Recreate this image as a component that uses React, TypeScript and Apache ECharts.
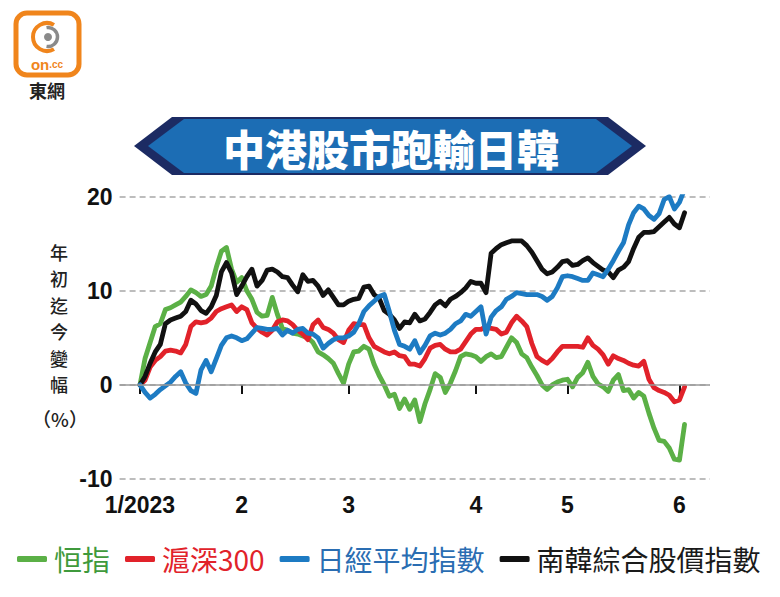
import React, { useEffect, useRef } from "react";
import * as echarts from "echarts";

const monthLabels = ["1/2023", "2", "3", "4", "5", "6"];
const monthStartIdx = [0, 20, 41, 66, 84, 106];

const seriesNames = ["恒指", "滬深300", "日經平均指數", "南韓綜合股價指數"];
const seriesColors = ["#5bb046", "#e1222a", "#1d7bc3", "#111111"];
const legendTextColors = ["#3f9a3c", "#e1222a", "#2a6db2", "#1a1a1a"];

const yNameChars = ["年", "初", "迄", "今", "變", "幅"];
const yNameUnit = "（%）";

const hsi = [
  0, 2.8, 4.5, 6.2, 6.5, 8.0, 8.2, 8.5, 8.8, 9.4,
  10.1, 9.8, 9.4, 9.6, 10.5, 12.5, 14.2, 14.6, 12.3, 10.9,
  11.4, 10.0, 9.1, 7.7, 7.3, 7.4, 9.3, 7.5, 6.0, 5.8,
  5.5, 5.4, 5.2, 5.0, 4.5, 3.5, 3.2, 2.8, 2.3, 1.2,
  0.2, 2.2, 3.5, 3.6, 4.1, 3.8, 2.2, 1.0, 0.0, -1.2,
  -1.0, -2.5, -1.5, -2.6, -1.6, -3.9, -2.0, -0.5, 1.2, 0.8,
  -0.8, 0.2, 1.5, 3.0, 3.3, 3.2, 3.0, 2.5, 3.0, 3.3,
  2.9, 3.0, 4.0, 5.0, 4.5, 3.3, 2.9, 1.9, 1.0, 0.0,
  -0.5, 0.0, 0.3, 0.5, 0.6, -0.2, 0.8, 1.3, 2.4, 0.9,
  0.1, -0.2, -0.7, 0.5, 1.1, -0.6, -0.5, -1.4, -0.8, -1.2,
  -3.0, -4.6, -5.9, -6.0, -6.7, -7.9, -8.0, -4.2,
];

const csi300 = [
  0, 0.5, 1.9, 2.6, 3.0, 3.6, 3.7, 3.6, 3.4, 4.3,
  6.2, 6.7, 6.6, 6.7, 7.1, 7.8, 8.1, 8.3, 8.5, 7.8,
  8.3, 8.0, 6.6, 6.0, 5.6, 5.3, 5.8, 6.7, 6.9, 6.8,
  6.4, 5.8, 5.4, 4.8, 6.4, 6.9, 6.1, 5.9, 5.5, 4.8,
  4.5, 5.8, 6.5, 6.4, 6.4, 5.0, 4.1, 3.8, 3.5, 3.3,
  3.5, 3.1, 3.0, 2.2, 2.2, 2.0, 2.8, 3.9, 4.2, 4.3,
  3.8, 3.5, 3.5, 3.8, 4.6, 5.4, 5.9, 5.9, 6.2, 6.0,
  5.9, 5.4, 5.6, 6.6, 7.3, 6.8, 6.2, 4.4, 3.0, 2.6,
  2.3, 2.8, 3.5, 4.1, 4.1, 4.1, 4.1, 4.0, 5.0, 4.2,
  3.8, 3.2, 2.2, 3.1, 2.8, 2.6, 2.3, 2.1, 2.0, 2.5,
  0.6, -0.3, -0.6, -0.8, -1.1, -1.8, -1.6, -0.2,
];

const nikkei = [
  0, -0.8, -1.4, -1.0, -0.5, -0.1, 0.3, 0.9, 1.4, 0.2,
  -0.6, -0.9, 1.6, 2.6, 1.4, 2.8, 4.2, 5.0, 5.2, 5.0,
  4.7, 4.9, 5.5, 6.1, 6.0, 5.9, 5.9, 6.0, 5.3, 5.8,
  5.5, 5.9, 6.0, 5.5, 5.4, 5.0, 3.9, 4.4, 4.8, 5.0,
  5.0, 5.2, 5.6, 6.5, 7.8, 8.4, 8.9, 9.4, 9.6, 7.8,
  5.8, 4.3, 4.1, 3.8, 4.7, 3.4, 4.2, 5.2, 5.5, 5.3,
  5.5, 5.9, 6.5, 6.8, 7.5, 7.3, 7.8, 8.3, 5.4, 7.2,
  7.9, 8.3, 9.1, 9.4, 9.8, 9.7, 9.6, 9.6, 9.6, 9.4,
  9.0, 9.4, 10.3, 11.5, 11.6, 11.5, 11.3, 11.1, 11.1, 11.9,
  11.7, 11.5, 12.3, 13.2, 14.2, 15.1, 17.0, 18.3, 19.0, 18.7,
  18.0, 17.6, 18.2, 19.7, 20.0, 18.7, 19.4, 20.8,
];

const kospi = [
  0, 0.9, 2.3, 3.5, 4.3, 6.5, 6.9, 7.1, 7.3, 7.8,
  9.0, 8.6, 7.9, 7.6, 8.3, 9.5, 12.0, 13.0, 11.9, 9.6,
  10.5, 11.5, 12.3, 10.5, 11.1, 12.2, 12.3, 12.0, 11.5, 11.4,
  10.6, 9.9, 11.7, 11.0, 11.1, 10.5, 9.5, 10.1, 9.3, 8.5,
  8.5, 8.9, 9.1, 9.2, 10.4, 10.5, 9.6, 9.2, 7.9, 7.5,
  6.9, 6.0, 6.7, 6.6, 7.5, 6.8, 7.0, 7.7, 8.5, 8.9,
  8.4, 9.1, 9.4, 9.8, 10.3, 11.0, 10.8, 10.8, 9.8, 14.0,
  14.5, 14.9, 15.1, 15.3, 15.3, 15.3, 14.8, 14.1, 13.2, 12.3,
  11.8, 12.0, 12.5, 13.1, 13.2, 12.7, 12.8, 13.2, 13.5, 13.0,
  12.6, 12.2, 12.0, 11.4, 12.2, 12.5, 13.1, 14.5, 15.7, 16.2,
  16.2, 16.3, 16.8, 17.3, 17.8, 17.1, 16.7, 18.3,
];

const allSeries = [hsi, csi300, nikkei, kospi];
const drawOrder = [0, 1, 3, 2];

const Y_MIN = -10;
const Y_MAX = 20;
const Y_STEP = 10;
const X_MIN = -4;
const X_MAX = 112;

const CJK = '"Noto Sans CJK TC", "Noto Sans CJK SC", sans-serif';
const LATIN = '"Liberation Sans", Arial, sans-serif';

export default function App() {
  const ref = useRef<HTMLDivElement>(null);

  useEffect(() => {
    if (!ref.current) return;
    const chart = echarts.init(ref.current, null, { renderer: "svg" });

    const lineSeries = drawOrder.map((k) => ({
      name: seriesNames[k],
      type: "line",
      data: allSeries[k].map((v, i) => [i, v]),
      symbol: "none",
      smooth: false,
      z: 3,
      lineStyle: { color: seriesColors[k], width: 4.8, join: "round", cap: "round" },
      itemStyle: { color: seriesColors[k] },
    }));

    const yNameGraphics = yNameChars.map((c, i) => ({
      type: "text",
      x: 59,
      y: 252 + i * 26.4,
      style: {
        text: c,
        align: "center",
        verticalAlign: "middle",
        fontFamily: CJK,
        fontWeight: 500,
        fontSize: 18,
        lineHeight: 18,
        fill: "#222",
      },
    }));

    const option: any = {
      animation: false,
      backgroundColor: "#ffffff",
      grid: {
        left: 119.6,
        right: 70,
        top: 196.7,
        bottom: 118,
        containLabel: false,
      },
      xAxis: {
        type: "value",
        min: X_MIN,
        max: X_MAX,
        axisLine: { show: false },
        splitLine: { show: false },
        axisTick: {
          show: true,
          customValues: monthStartIdx,
          length: 9,
          lineStyle: { color: "#111", width: 2 },
        },
        axisLabel: {
          show: true,
          customValues: monthStartIdx,
          formatter: (v: number) => {
            const k = monthStartIdx.indexOf(Math.round(v));
            return k >= 0 ? monthLabels[k] : "";
          },
          margin: 14,
          fontFamily: LATIN,
          fontWeight: "bold",
          fontSize: 23,
          color: "#111",
        },
      },
      yAxis: {
        type: "value",
        min: Y_MIN,
        max: Y_MAX,
        interval: Y_STEP,
        axisLine: { show: false },
        axisTick: { show: false },
        axisLabel: {
          margin: 7,
          fontFamily: LATIN,
          fontWeight: "bold",
          fontSize: 23,
          color: "#111",
        },
        splitLine: {
          show: true,
          lineStyle: { color: "#a8a8a8", width: 1.5, type: [6, 4] },
        },
      },
      legend: {
        show: true,
        left: 12,
        top: 540,
        itemWidth: 30,
        itemHeight: 6,
        itemGap: 15,
        icon: "roundRect",
        data: seriesNames.map((n, k) => ({
          name: n,
          itemStyle: { color: seriesColors[k] },
          textStyle: { color: legendTextColors[k] },
        })),
        textStyle: {
          fontFamily: CJK,
          fontSize: 28,
          padding: [0, 0, 0, 2],
        },
        selectedMode: false,
      },
      series: [
        {
          name: "zero",
          type: "line",
          data: [],
          z: 1,
          silent: true,
          markLine: {
            silent: true,
            symbol: ["none", "none"],
            label: { show: false },
            lineStyle: { color: "#9a9a9a", width: 1.5, type: "solid" },
            data: [{ yAxis: 0 }],
          },
        },
        ...lineSeries,
      ],
      graphic: [
        // logo
        {
          type: "rect",
          shape: { x: 16, y: 13, width: 63, height: 62, r: 11 },
          style: { fill: "#ffffff", stroke: "#f0851c", lineWidth: 5 },
        },
        {
          type: "arc",
          shape: { cx: 47, cy: 37, r: 14, startAngle: Math.PI / 3, endAngle: (5 * Math.PI) / 3, clockwise: true },
          style: { stroke: "#f0851c", lineWidth: 4, fill: "none" },
        },
        {
          type: "arc",
          shape: { cx: 48, cy: 37, r: 9.5, startAngle: -Math.PI * 0.55, endAngle: Math.PI * 0.55, clockwise: true },
          style: { stroke: "#8a8a8a", lineWidth: 3.5, fill: "none" },
        },
        {
          type: "circle",
          shape: { cx: 48, cy: 37, r: 4 },
          style: { fill: "#8a8a8a" },
        },
        {
          type: "text",
          x: 47,
          y: 64,
          style: {
            text: "{a|on}{b|.cc}",
            align: "center",
            verticalAlign: "middle",
            rich: {
              a: { fontFamily: LATIN, fontWeight: "bold", fontSize: 15, fill: "#f0851c" },
              b: { fontFamily: LATIN, fontWeight: "bold", fontSize: 10, fill: "#f0851c" },
            },
          },
        },
        {
          type: "text",
          x: 47,
          y: 90,
          style: {
            text: "東網",
            align: "center",
            verticalAlign: "middle",
            fontFamily: CJK,
            fontWeight: "bold",
            fontSize: 18,
            fill: "#222",
          },
        },
        // title banner
        {
          type: "polygon",
          shape: { points: [[134, 146], [172, 117], [608, 117], [646, 146], [608, 175], [172, 175]] },
          style: { fill: "#1c2b63" },
        },
        {
          type: "polygon",
          shape: { points: [[148, 146], [184, 119], [596, 119], [632, 146], [596, 173], [184, 173]] },
          style: { fill: "#1c6db4" },
        },
        {
          type: "text",
          x: 391,
          y: 147,
          style: {
            text: "中港股市跑輸日韓",
            align: "center",
            verticalAlign: "middle",
            fontFamily: CJK,
            fontWeight: 900,
            fontSize: 42,
            fill: "#ffffff",
          },
        },
        // y axis name
        ...yNameGraphics,
        {
          type: "text",
          x: 60,
          y: 418,
          style: {
            text: yNameUnit,
            align: "center",
            verticalAlign: "middle",
            fontFamily: CJK,
            fontWeight: 500,
            fontSize: 19,
            lineHeight: 19,
            fill: "#222",
          },
        },
      ],
    };

    chart.setOption(option);
    return () => chart.dispose();
  }, []);

  return (
    <div
      ref={ref}
      style={{ position: "fixed", left: 0, top: 0, width: 780, height: 597, background: "#fff" }}
    />
  );
}
